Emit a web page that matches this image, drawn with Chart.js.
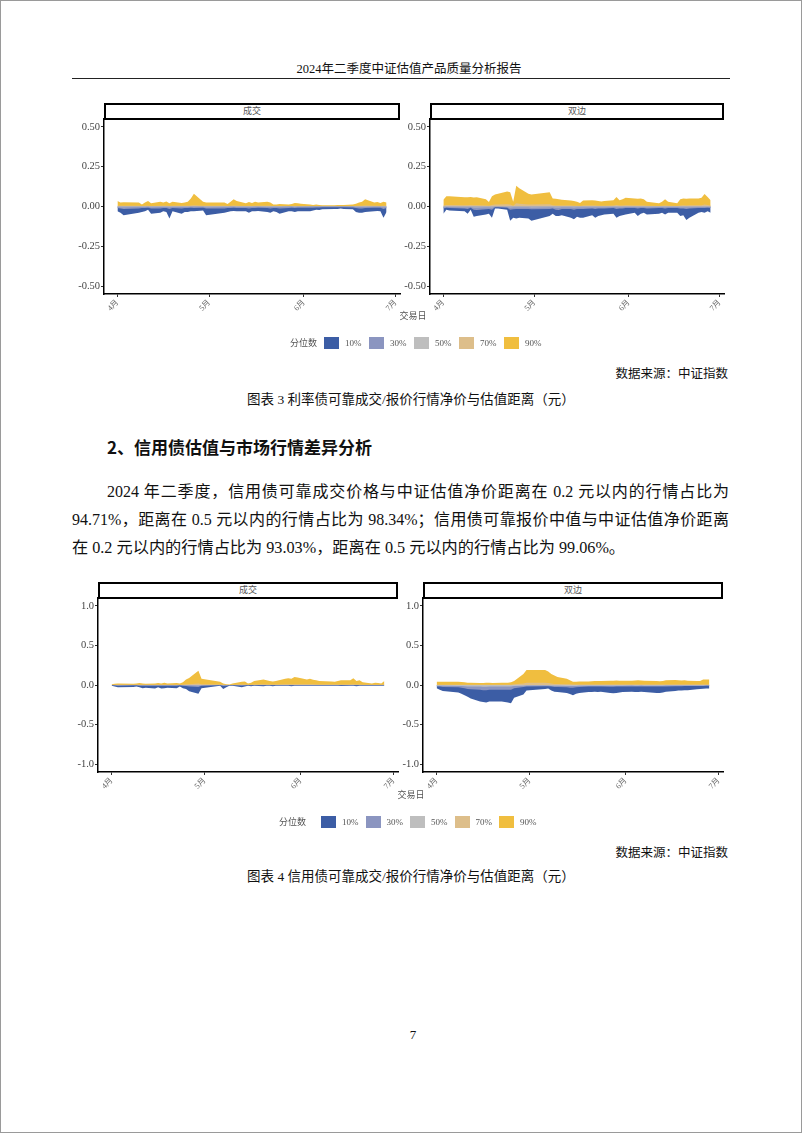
<!DOCTYPE html>
<html>
<head>
<meta charset="utf-8">
<script src="https://cdn.jsdelivr.net/npm/chart.js@4.4.1/dist/chart.umd.min.js"></script>
<style>
  body { margin: 0; width: 802px; height: 1133px; position: relative; background: #fff; overflow: hidden;
         font-family: "Liberation Serif", "Noto Sans CJK SC", serif; color: #111; }
  .frame { position: absolute; left: 0; top: 0; width: 800px; height: 1131px; border: 1px solid #9a9a9a; }
  .abs { position: absolute; white-space: nowrap; }
  .strip { position: absolute; box-sizing: border-box; border: 2px solid #000; height: 17px;
           font-size: 9px; color: #555; text-align: center; line-height: 13px; }
  .xt { font-size: 9px; color: #555; width: 60px; text-align: center; }
  .legend { position: absolute; width: 600px; height: 14px; font-size: 9px; color: #555; white-space: nowrap; }
  .legend i { position: absolute; width: 15px; height: 12px; top: 1px; }
  .legend span { position: absolute; top: 0; line-height: 14px; white-space: nowrap; }
  .src { font-size: 12.5px; width: 200px; text-align: right; }
  .cap { font-size: 13.5px; left: 0; width: 822px; text-align: center; }
  .para { position: absolute; font-size: 16px; line-height: 20px; text-align: justify; text-align-last: justify; white-space: nowrap; }
  canvas { position: absolute; }
</style>
</head>
<body>
<div class="frame"></div>

<div class="abs" style="left:0;width:818px;text-align:center;top:58px;font-size:12.5px;">2024年二季度中证估值产品质量分析报告</div>
<div class="abs" style="left:72px;top:78px;width:658px;height:1px;background:#222;"></div>

<!-- 图表 3 -->
<div class="strip" style="left:104px;top:103px;width:296px;">成交</div>
<div class="strip" style="left:430px;top:103px;width:294px;">双边</div>
<canvas id="c1" width="355" height="215" style="left:55px;top:109px;"></canvas>
<canvas id="c2" width="355" height="215" style="left:380px;top:109px;"></canvas>
<div class="abs xt" style="left:383px;top:309px;">交易日</div>
<div class="legend" id="lg1" style="left:0;top:336px;"></div>
<div class="abs src" style="left:528px;top:363px;">数据来源：中证指数</div>
<div class="abs cap" style="top:388px;">图表 3 利率债可靠成交/报价行情净价与估值距离（元）</div>

<div class="abs" style="left:107px;top:434px;font-size:17px;font-weight:bold;font-family:'Noto Sans CJK SC',sans-serif;">2、信用债估值与市场行情差异分析</div>
<div class="para" style="left:107px;top:482px;width:622px;">2024 年二季度，信用债可靠成交价格与中证估值净价距离在 0.2 元以内的行情占比为</div>
<div class="para" style="left:72px;top:510px;width:657px;">94.71%，距离在 0.5 元以内的行情占比为 98.34%；信用债可靠报价中值与中证估值净价距离</div>
<div class="abs" style="left:72px;top:538px;font-size:16.2px;line-height:20px;">在 0.2 元以内的行情占比为 93.03%，距离在 0.5 元以内的行情占比为 99.06%。</div>

<!-- 图表 4 -->
<div class="strip" style="left:98px;top:582px;width:300px;">成交</div>
<div class="strip" style="left:423px;top:582px;width:300px;">双边</div>
<canvas id="c3" width="358" height="214" style="left:50px;top:588px;"></canvas>
<canvas id="c4" width="358" height="214" style="left:375px;top:588px;"></canvas>
<div class="abs xt" style="left:381px;top:788px;">交易日</div>
<div class="legend" id="lg2" style="left:-3px;top:815px;"></div>
<div class="abs src" style="left:528px;top:842px;">数据来源：中证指数</div>
<div class="abs cap" style="top:865px;">图表 4 信用债可靠成交/报价行情净价与估值距离（元）</div>

<div class="abs" style="left:0;width:826px;text-align:center;top:1027px;font-size:13px;">7</div>

<script>
// 交易日
const tradeDays = [
  '04-01','04-02','04-03','04-08','04-09','04-10','04-11','04-12','04-15','04-16',
  '04-17','04-18','04-19','04-22','04-23','04-24','04-25','04-26','04-29','04-30',
  '05-06','05-07','05-08','05-09','05-10','05-13','05-14','05-15','05-16','05-17',
  '05-20','05-21','05-22','05-23','05-24','05-27','05-28','05-29','05-30','05-31',
  '06-03','06-04','06-05','06-06','06-07','06-11','06-12','06-13','06-14','06-17',
  '06-18','06-19','06-20','06-21','06-24','06-25','06-26','06-27','06-28'
];
const monthTicks = ['04-01', '05-01', '06-01', '07-01'];
const monthLabels = ['4月', '5月', '6月', '7月'];
const rateTicks = [-0.5, -0.25, 0, 0.25, 0.5];
const creditTicks = [-1, -0.5, 0, 0.5, 1];
const levels = ['10%', '30%', '50%', '70%', '90%'];

// 利率债 成交
const rateTrade10 = [-0.030,-0.040,-0.055,-0.040,-0.035,-0.030,-0.020,-0.045,-0.040,-0.030,
  -0.035,-0.075,-0.030,-0.045,-0.035,-0.035,-0.030,-0.030,-0.025,-0.055,
  -0.040,-0.035,-0.030,-0.028,-0.030,-0.030,-0.040,-0.030,-0.030,-0.028,
  -0.035,-0.040,-0.030,-0.035,-0.045,-0.030,-0.030,-0.035,-0.030,-0.030,
  -0.030,-0.025,-0.020,-0.022,-0.018,-0.015,-0.015,-0.012,-0.015,-0.018,
  -0.035,-0.040,-0.040,-0.035,-0.030,-0.028,-0.030,-0.070,-0.035];
const rateTrade30 = [-0.010,-0.012,-0.015,-0.012,-0.010,-0.010,-0.008,-0.012,-0.012,-0.010,
  -0.010,-0.015,-0.010,-0.012,-0.010,-0.010,-0.008,-0.010,-0.008,-0.012,
  -0.012,-0.010,-0.010,-0.008,-0.010,-0.010,-0.012,-0.010,-0.010,-0.008,
  -0.010,-0.012,-0.010,-0.010,-0.012,-0.010,-0.008,-0.010,-0.008,-0.008,
  -0.008,-0.008,-0.006,-0.006,-0.005,-0.005,-0.005,-0.004,-0.005,-0.006,
  -0.010,-0.012,-0.012,-0.010,-0.008,-0.008,-0.008,-0.015,-0.010];
const rateTrade50 = [-0.003,-0.004,-0.004,-0.003,-0.003,-0.003,-0.002,-0.004,-0.003,-0.003,
  -0.003,-0.004,-0.003,-0.003,-0.003,-0.003,-0.002,-0.002,-0.002,-0.004,
  -0.003,-0.003,-0.002,-0.002,-0.003,-0.003,-0.003,-0.003,-0.002,-0.002,
  -0.003,-0.003,-0.003,-0.003,-0.003,-0.002,-0.002,-0.003,-0.002,-0.002,
  -0.002,-0.002,-0.002,-0.002,-0.001,-0.001,-0.001,-0.001,-0.001,-0.002,
  -0.003,-0.003,-0.003,-0.003,-0.002,-0.002,-0.002,-0.004,-0.003];
const rateTrade70 = [0.004,0.004,0.005,0.004,0.003,0.004,0.004,0.003,0.004,0.004,
  0.004,0.003,0.004,0.004,0.004,0.005,0.006,0.008,0.004,0.004,
  0.004,0.003,0.004,0.006,0.005,0.003,0.004,0.003,0.004,0.004,
  0.004,0.004,0.002,0.002,0.002,0.002,0.002,0.003,0.003,0.003,
  0.002,0.002,0.002,0.002,0.001,0.001,0.002,0.002,0.002,0.002,
  0.003,0.004,0.004,0.006,0.004,0.004,0.003,0.004,0.004];
const rateTrade90 = [0.035,0.025,0.027,0.025,0.012,0.025,0.035,0.020,0.030,0.025,
  0.032,0.020,0.030,0.022,0.025,0.030,0.050,0.080,0.030,0.025,
  0.025,0.015,0.030,0.045,0.035,0.020,0.028,0.022,0.030,0.025,
  0.030,0.025,0.012,0.012,0.015,0.012,0.015,0.022,0.020,0.018,
  0.012,0.010,0.012,0.010,0.008,0.008,0.010,0.010,0.010,0.012,
  0.018,0.025,0.030,0.045,0.025,0.028,0.022,0.030,0.025];

// 利率债 双边
const rateQuote10 = [-0.045,-0.020,-0.025,-0.030,-0.045,-0.020,-0.065,-0.060,-0.050,-0.045,
  -0.070,-0.012,-0.012,-0.020,-0.090,-0.070,-0.075,-0.070,-0.075,-0.090,
  -0.060,-0.045,-0.060,-0.060,-0.055,-0.070,-0.080,-0.065,-0.070,-0.070,
  -0.055,-0.070,-0.060,-0.055,-0.050,-0.045,-0.070,-0.060,-0.055,-0.050,
  -0.040,-0.060,-0.045,-0.040,-0.050,-0.045,-0.040,-0.050,-0.040,-0.040,
  -0.060,-0.055,-0.085,-0.070,-0.040,-0.035,-0.040,-0.030,-0.040];
const rateQuote30 = [-0.012,-0.008,-0.010,-0.012,-0.015,-0.008,-0.020,-0.022,-0.018,-0.015,
  -0.020,-0.005,-0.005,-0.008,-0.020,-0.018,-0.015,-0.015,-0.015,-0.018,
  -0.015,-0.012,-0.020,-0.022,-0.015,-0.015,-0.020,-0.015,-0.015,-0.015,
  -0.012,-0.015,-0.012,-0.012,-0.012,-0.010,-0.015,-0.012,-0.012,-0.010,
  -0.010,-0.012,-0.010,-0.010,-0.012,-0.010,-0.010,-0.012,-0.010,-0.010,
  -0.012,-0.012,-0.015,-0.012,-0.010,-0.010,-0.010,-0.008,-0.010];
const rateQuote50 = [-0.004,-0.003,-0.003,-0.004,-0.005,-0.003,-0.006,-0.006,-0.005,-0.005,
  -0.006,-0.002,-0.002,-0.003,-0.006,-0.005,-0.005,-0.005,-0.005,-0.006,
  -0.005,-0.004,-0.006,-0.006,-0.005,-0.005,-0.006,-0.005,-0.005,-0.005,
  -0.004,-0.005,-0.004,-0.004,-0.004,-0.003,-0.005,-0.004,-0.004,-0.003,
  -0.003,-0.004,-0.003,-0.003,-0.004,-0.003,-0.003,-0.004,-0.003,-0.003,
  -0.004,-0.004,-0.005,-0.004,-0.003,-0.003,-0.003,-0.003,-0.003];
const rateQuote70 = [0.006,0.010,0.010,0.008,0.008,0.009,0.008,0.008,0.006,0.004,
  0.010,0.012,0.012,0.014,0.012,0.004,0.020,0.018,0.012,0.012,
  0.014,0.008,0.007,0.007,0.006,0.006,0.005,0.005,0.003,0.006,
  0.006,0.006,0.005,0.005,0.005,0.006,0.009,0.006,0.007,0.008,
  0.007,0.007,0.007,0.007,0.004,0.003,0.004,0.007,0.004,0.003,
  0.007,0.008,0.007,0.008,0.008,0.008,0.012,0.009,0.006];
const rateQuote90 = [0.042,0.065,0.065,0.058,0.058,0.060,0.057,0.058,0.045,0.028,
  0.065,0.075,0.080,0.095,0.090,0.030,0.130,0.115,0.080,0.075,
  0.090,0.050,0.048,0.045,0.042,0.038,0.035,0.030,0.022,0.038,
  0.040,0.038,0.035,0.032,0.035,0.040,0.060,0.040,0.045,0.055,
  0.050,0.048,0.050,0.045,0.030,0.020,0.030,0.045,0.030,0.020,
  0.045,0.050,0.048,0.050,0.050,0.055,0.078,0.060,0.040];

// 信用债 成交
const creditTrade10 = [-0.010,-0.020,-0.030,-0.025,-0.020,-0.030,-0.040,-0.035,-0.045,-0.030,
  -0.045,-0.040,-0.035,-0.040,-0.020,-0.040,-0.050,-0.080,-0.110,-0.040,
  -0.010,-0.050,-0.030,-0.010,-0.008,-0.030,-0.020,-0.010,-0.015,-0.010,
  -0.015,-0.010,-0.010,-0.015,-0.010,-0.008,-0.010,-0.015,-0.010,-0.008,
  -0.010,-0.008,-0.010,-0.010,-0.008,-0.010,-0.010,-0.008,-0.012,-0.010,
  -0.010,-0.015,-0.010,-0.008,-0.010,-0.008,-0.010,-0.008,-0.010];
const creditTrade30 = [-0.003,-0.005,-0.008,-0.006,-0.005,-0.008,-0.010,-0.008,-0.010,-0.008,
  -0.010,-0.010,-0.008,-0.010,-0.005,-0.010,-0.012,-0.018,-0.025,-0.010,
  -0.003,-0.012,-0.008,-0.003,-0.002,-0.008,-0.005,-0.003,-0.004,-0.003,
  -0.004,-0.003,-0.003,-0.004,-0.003,-0.002,-0.003,-0.004,-0.003,-0.002,
  -0.003,-0.002,-0.003,-0.003,-0.002,-0.003,-0.003,-0.002,-0.003,-0.003,
  -0.003,-0.004,-0.003,-0.002,-0.003,-0.002,-0.003,-0.002,-0.003];
const creditTrade50 = [0.000,-0.001,-0.002,-0.001,-0.001,-0.002,-0.002,-0.002,-0.002,-0.002,
  -0.002,-0.002,-0.002,-0.002,-0.001,-0.002,-0.002,-0.004,-0.005,-0.002,
  0.000,-0.002,-0.002,0.000,0.000,-0.001,-0.001,0.000,-0.001,0.000,
  0.000,0.000,0.000,-0.001,0.000,0.000,0.000,-0.001,0.000,0.000,
  0.000,0.000,0.000,0.000,0.000,0.000,0.000,0.000,-0.001,0.000,
  0.000,-0.001,0.000,0.000,0.000,0.000,0.000,0.000,0.000];
const creditTrade70 = [0.002,0.002,0.003,0.002,0.003,0.003,0.003,0.002,0.003,0.003,
  0.003,0.004,0.003,0.003,0.003,0.004,0.008,0.010,0.020,0.009,
  0.005,0.003,0.002,0.001,0.003,0.005,0.005,0.003,0.004,0.006,
  0.008,0.007,0.006,0.005,0.006,0.009,0.010,0.009,0.011,0.010,
  0.008,0.009,0.008,0.007,0.006,0.005,0.005,0.006,0.007,0.007,
  0.009,0.006,0.007,0.004,0.003,0.004,0.003,0.003,0.006];
const creditTrade90 = [0.010,0.015,0.020,0.015,0.020,0.025,0.020,0.015,0.020,0.025,
  0.020,0.030,0.020,0.025,0.020,0.035,0.070,0.090,0.180,0.080,
  0.040,0.020,0.010,0.005,0.020,0.040,0.045,0.020,0.030,0.050,
  0.070,0.060,0.050,0.045,0.050,0.080,0.085,0.080,0.100,0.095,
  0.070,0.080,0.065,0.060,0.050,0.045,0.040,0.050,0.060,0.060,
  0.085,0.050,0.060,0.035,0.020,0.030,0.025,0.020,0.050];

// 信用债 双边
const creditQuote10 = [-0.040,-0.060,-0.075,-0.095,-0.110,-0.130,-0.150,-0.170,-0.210,-0.215,
  -0.220,-0.210,-0.210,-0.210,-0.215,-0.220,-0.230,-0.160,-0.120,-0.070,
  -0.050,-0.045,-0.070,-0.085,-0.090,-0.100,-0.115,-0.130,-0.110,-0.100,
  -0.090,-0.090,-0.085,-0.090,-0.085,-0.100,-0.105,-0.100,-0.095,-0.090,
  -0.085,-0.090,-0.090,-0.085,-0.090,-0.100,-0.100,-0.095,-0.085,-0.075,
  -0.070,-0.068,-0.065,-0.065,-0.055,-0.050,-0.048,-0.045,-0.045];
const creditQuote30 = [-0.020,-0.020,-0.025,-0.030,-0.035,-0.040,-0.050,-0.055,-0.060,-0.065,
  -0.065,-0.060,-0.060,-0.060,-0.060,-0.060,-0.060,-0.040,-0.025,-0.020,
  -0.015,-0.015,-0.020,-0.025,-0.025,-0.030,-0.035,-0.035,-0.030,-0.025,
  -0.020,-0.020,-0.020,-0.020,-0.020,-0.022,-0.022,-0.020,-0.020,-0.020,
  -0.018,-0.020,-0.020,-0.018,-0.020,-0.020,-0.020,-0.020,-0.018,-0.016,
  -0.015,-0.015,-0.014,-0.014,-0.012,-0.012,-0.012,-0.010,-0.010];
const creditQuote50 = [-0.008,-0.008,-0.010,-0.012,-0.014,-0.015,-0.018,-0.020,-0.020,-0.022,
  -0.022,-0.020,-0.020,-0.020,-0.020,-0.020,-0.020,-0.012,-0.008,-0.006,
  -0.005,-0.005,-0.008,-0.010,-0.010,-0.012,-0.014,-0.014,-0.012,-0.010,
  -0.008,-0.008,-0.008,-0.008,-0.008,-0.008,-0.008,-0.008,-0.008,-0.008,
  -0.007,-0.008,-0.008,-0.007,-0.008,-0.008,-0.008,-0.008,-0.007,-0.006,
  -0.006,-0.006,-0.005,-0.005,-0.005,-0.005,-0.005,-0.004,-0.004];
const creditQuote70 = [0.004,0.004,0.004,0.004,0.003,0.003,0.003,0.002,0.002,0.002,
  0.002,0.002,0.002,0.002,0.002,0.002,0.003,0.008,0.020,0.030,
  0.030,0.025,0.018,0.014,0.012,0.010,0.008,0.005,0.005,0.005,
  0.005,0.006,0.006,0.006,0.006,0.006,0.006,0.006,0.006,0.006,
  0.006,0.006,0.007,0.006,0.006,0.005,0.005,0.006,0.006,0.007,
  0.006,0.006,0.006,0.006,0.005,0.005,0.007,0.007,0.007];
const creditQuote90 = [0.040,0.042,0.042,0.040,0.038,0.035,0.030,0.028,0.025,0.025,
  0.028,0.027,0.025,0.028,0.028,0.030,0.035,0.050,0.140,0.190,
  0.190,0.170,0.140,0.120,0.100,0.078,0.060,0.040,0.040,0.045,
  0.045,0.048,0.050,0.052,0.052,0.055,0.055,0.058,0.055,0.055,
  0.055,0.058,0.060,0.058,0.055,0.050,0.048,0.052,0.060,0.062,
  0.060,0.058,0.060,0.055,0.050,0.052,0.068,0.070,0.068];

const levelColors = ['#3c5da5', '#8b95c0', '#bebebe', '#ddbe8a', '#f0be3f'];
const drawOrder = [3, 2, 1, 2, 3];
const FONT = '"Liberation Serif", "Noto Sans CJK SC", serif';

// days since 04-01 for the linear x axis
const dayOf = (md) => {
  const [m, d] = md.split('-').map(Number);
  return (Date.UTC(2024, m - 1, d) - Date.UTC(2024, 3, 1)) / 86400000;
};
const dayNum = tradeDays.map(dayOf);
const monthDays = monthTicks.map(dayOf);
const xPad = (dayNum[dayNum.length - 1] - dayNum[0]) * 0.05;

function panel(id, series, ticks, digits, yWidth, padRight) {
  const span = ticks[ticks.length - 1] - ticks[0];
  new Chart(document.getElementById(id), {
    type: 'line',
    data: {
      datasets: series.map((s, k) => ({
        label: levels[k],
        data: s.map((v, i) => ({ x: dayNum[i], y: v })),
        fill: 'origin',
        backgroundColor: levelColors[k],
        borderColor: 'rgba(0,0,0,0)',
        borderWidth: 0,
        pointRadius: 0,
        tension: 0,
        order: drawOrder[k]
      }))
    },
    options: {
      responsive: false,
      animation: false,
      devicePixelRatio: 1,
      layout: { padding: { top: 10, right: padRight, left: 0, bottom: 0 } },
      plugins: { legend: { display: false }, tooltip: { enabled: false } },
      scales: {
        x: {
          type: 'linear',
          min: dayNum[0] - xPad,
          max: dayNum[dayNum.length - 1] + xPad,
          afterBuildTicks: (s) => { s.ticks = monthDays.map(v => ({ value: v })); },
          afterFit: (s) => { s.height = 30; },
          ticks: {
            autoSkip: false, minRotation: 45, maxRotation: 45, padding: 1,
            color: '#666', font: { family: FONT, size: 8 },
            callback: (v) => monthLabels[monthDays.indexOf(v)]
          },
          grid: { drawOnChartArea: false, drawTicks: true, tickLength: 3, tickColor: '#333' },
          border: { display: true, color: '#000', width: 1.5 }
        },
        y: {
          min: ticks[0] - span * 0.05,
          max: ticks[ticks.length - 1] + span * 0.05,
          afterBuildTicks: (s) => { s.ticks = ticks.map(v => ({ value: v })); },
          afterFit: (s) => { s.width = yWidth; },
          ticks: {
            padding: 1, color: '#444', font: { family: FONT, size: 10.5 },
            callback: (v) => v.toFixed(digits)
          },
          grid: { drawOnChartArea: false, drawTicks: true, tickLength: 3, tickColor: '#333' },
          border: { display: true, color: '#000', width: 1.5 }
        }
      }
    }
  });
}

panel('c1', [rateTrade10, rateTrade30, rateTrade50, rateTrade70, rateTrade90], rateTicks, 2, 49, 10);
panel('c2', [rateQuote10, rateQuote30, rateQuote50, rateQuote70, rateQuote90], rateTicks, 2, 50, 11);
panel('c3', [creditTrade10, creditTrade30, creditTrade50, creditTrade70, creditTrade90], creditTicks, 1, 48, 10);
panel('c4', [creditQuote10, creditQuote30, creditQuote50, creditQuote70, creditQuote90], creditTicks, 1, 48, 10);

// 图例
function legend(id, titleRight, firstSwatch, step) {
  const el = document.getElementById(id);
  const t = document.createElement('span');
  t.textContent = '分位数';
  t.style.left = (titleRight - 28) + 'px';
  el.appendChild(t);
  levels.forEach((lv, k) => {
    const sw = document.createElement('i');
    sw.style.left = (firstSwatch + k * step) + 'px';
    sw.style.background = levelColors[k];
    el.appendChild(sw);
    const lb = document.createElement('span');
    lb.textContent = lv;
    lb.style.left = (firstSwatch + k * step + 21) + 'px';
    el.appendChild(lb);
  });
}
legend('lg1', 318, 324, 45);
legend('lg2', 310, 324, 44.5);
</script>
</body>
</html>
